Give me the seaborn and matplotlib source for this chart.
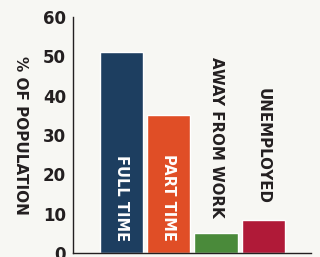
import matplotlib
matplotlib.use("Agg")
import matplotlib.pyplot as plt
import seaborn as sns
import pandas as pd

categories = ["FULL TIME", "PART TIME", "AWAY FROM WORK", "UNEMPLOYED"]
values = [51, 35, 5, 8.5]
colors = ["#1d3e60", "#e04e26", "#4a8a3a", "#b01a38"]
inside = [True, True, False, False]
y_ticks = [0, 10, 20, 30, 40, 50, 60]

BG = "#f7f7f3"
INK = "#231f20"

sns.set_style("white")
plt.rcParams['font.family'] = ['DejaVu Sans']

df = pd.DataFrame({"cat": categories, "val": values})

fig = plt.figure(figsize=(3.2, 2.57), dpi=100, facecolor=BG)
ax = fig.add_axes([0.228, 0.0156, 0.744, 0.918])
ax.set_facecolor(BG)

sns.barplot(data=df, x="cat", y="val", hue="cat", palette=colors, legend=False,
            width=0.915, saturation=1, ax=ax)

for i, (lab, v, ins) in enumerate(zip(categories, values, inside)):
    if ins:
        ax.text(i, 3, lab, rotation=-90, ha="center", va="bottom", color="white",
                fontsize=10.5, fontweight="bold")
    else:
        ax.text(i, v + 4, lab, rotation=-90, ha="center", va="bottom", color=INK,
                fontsize=10.8, fontweight="bold")

ax.set_ylim(0, 60)
ax.set_xlim(-1.03, 4.01)
ax.set_yticks(y_ticks)
ax.set_yticklabels([str(t) for t in y_ticks], fontsize=12, fontweight="bold", color=INK)
ax.set_xticks([4.01])
ax.set_xticklabels([""])
ax.tick_params(axis="y", direction="in", length=6, width=1, color=INK, pad=5)
ax.tick_params(axis="x", direction="in", length=6, width=1, color=INK)
ax.set_xlabel("")
ax.set_ylabel("% OF POPULATION", fontsize=11, fontweight="bold", color=INK,
              rotation=-90, va="center", labelpad=16)

for s in ["top", "right"]:
    ax.spines[s].set_visible(False)
for s in ["left", "bottom"]:
    ax.spines[s].set_color(INK)
    ax.spines[s].set_linewidth(1)

fig.savefig("out.png", dpi=100, facecolor=BG)
